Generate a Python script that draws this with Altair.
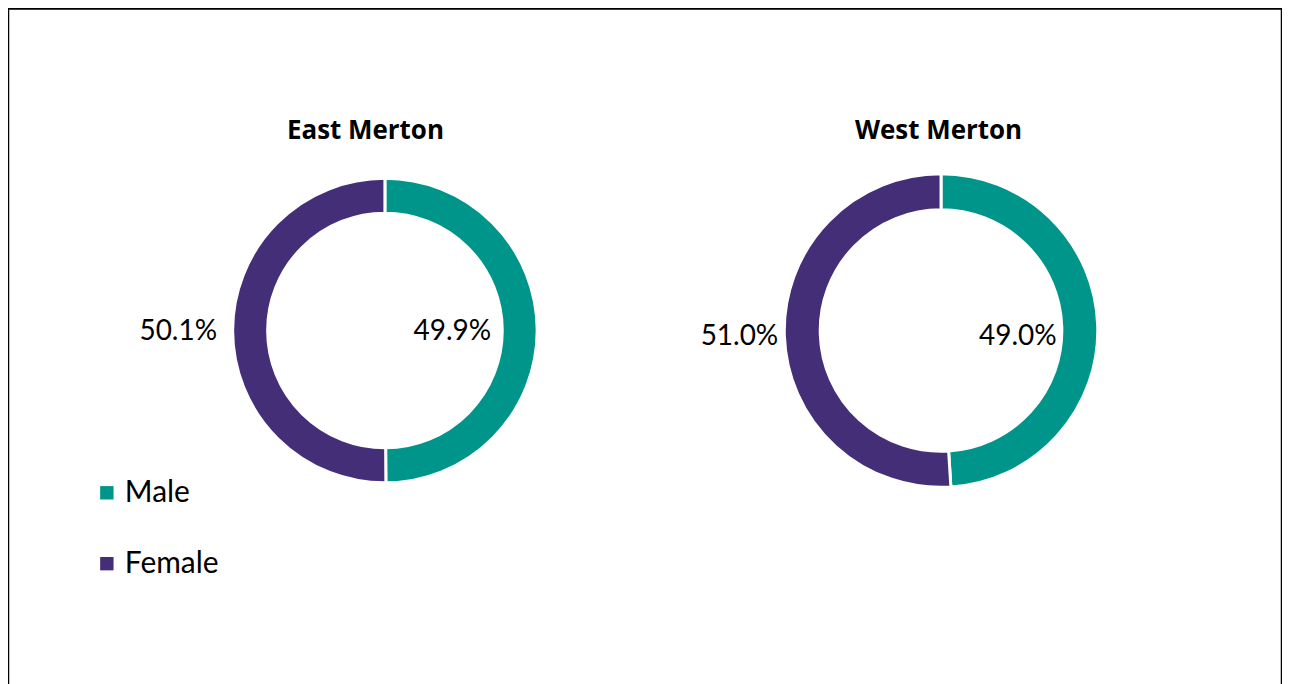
import altair as alt
import pandas as pd

regions = ["East Merton", "West Merton"]
genders = ["Male", "Female"]
east_values = [49.9, 50.1]
west_values = [49.0, 51.0]
east_labels = ["49.9%", "50.1%"]
west_labels = ["49.0%", "51.0%"]

rows = []
for reg, vals, labs in [(regions[0], east_values, east_labels),
                        (regions[1], west_values, west_labels)]:
    for i, (g, v, l) in enumerate(zip(genders, vals, labs)):
        rows.append(dict(region=reg, gender=g, value=v, label=l, order=i))
df = pd.DataFrame(rows)

TEAL = "#00958A"
PURPLE = "#452E78"
FONT = "Lato"

xenc = alt.X("region:N", scale=alt.Scale(type="point", domain=regions, range=[377.5, 934.5], padding=0),
             axis=None)
yval = alt.value(322.5)
theta = alt.Theta("value:Q", stack=True, scale=alt.Scale(domain=[0, 100]))
order = alt.Order("order:Q")

base = alt.Chart(df)

legend = alt.Legend(title=None, orient="none", legendX=84, legendY=470,
                    symbolType="square", symbolSize=180, symbolStrokeWidth=0,
                    labelFontSize=30, labelFont=FONT, labelColor="black",
                    rowPadding=41, labelOffset=3, padding=0)
color = alt.Color("gender:N", scale=alt.Scale(domain=genders, range=[TEAL, PURPLE]), legend=legend)


def donut(reg, outer, inner, in_r, in_dy, out_r, out_dy, title_dx):
    b = base.transform_filter(alt.datum.region == reg)
    arc = b.mark_arc(outerRadius=outer, innerRadius=inner, stroke="white", strokeWidth=3).encode(
        x=xenc, y=yval, theta=theta, color=color, order=order)
    lab_in = b.mark_text(radius=in_r, dy=in_dy, fontSize=28, font=FONT, color="black").encode(
        x=xenc, y=yval, theta=theta, order=order,
        text=alt.condition(alt.datum.gender == "Male", "label:N", alt.value("")))
    lab_out = b.mark_text(radius=out_r, dy=out_dy, fontSize=28, font=FONT, color="black").encode(
        x=xenc, y=yval, theta=theta, order=order,
        text=alt.condition(alt.datum.gender == "Female", "label:N", alt.value("")))
    title = b.transform_filter(alt.datum.gender == "Male").mark_text(
        fontSize=26, font="Open Sans", fontWeight="bold", color="black", dx=title_dx).encode(
        x=xenc, y=alt.value(122.5), text="region:N")
    return [arc, lab_in, lab_out, title]


layers = donut(regions[0], 152.5, 117.5, 67.5, 1.5, 207, 1.2, -19.5) + \
         donut(regions[1], 157, 121, 77, 8.5, 202, 0, -2.5)

chart = alt.layer(*layers).properties(
    width=1276, height=700, padding=0, background="white"
).configure_view(stroke="black", strokeWidth=2.5)

chart.save("out.html", embed_options={"renderer": "svg", "actions": False})
